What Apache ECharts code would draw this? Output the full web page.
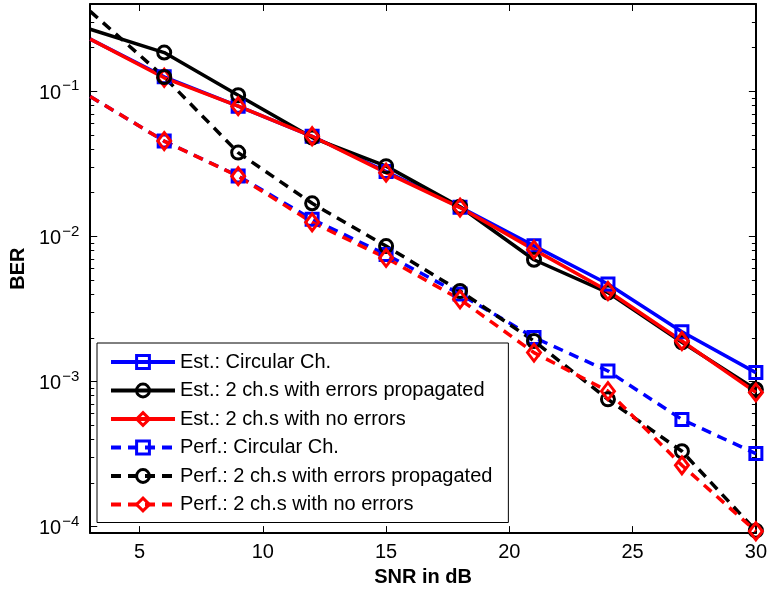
<!DOCTYPE html>
<html>
<head>
<meta charset="utf-8">
<script src="https://cdn.jsdelivr.net/npm/echarts@6/dist/echarts.min.js"></script>
<style>
html,body{margin:0;padding:0;background:#fff;}
#chart{width:770px;height:592px;}
</style>
</head>
<body>
<div id="chart"></div>
<script>
// ---- data ----
const snr = [3, 6, 9, 12, 15, 18, 21, 24, 27, 30];
const estCircular   = [0.229, 0.126, 0.079, 0.049, 0.028, 0.0159, 0.0086, 0.0047, 0.0022, 0.00115];
const estErrProp    = [0.268, 0.185, 0.094, 0.048, 0.0305, 0.016, 0.0069, 0.0041, 0.00186, 0.00088];
const estNoErr      = [0.229, 0.124, 0.079, 0.049, 0.0275, 0.0158, 0.0081, 0.0042, 0.0019, 0.00084];
const perfCircular  = [0.092, 0.0454, 0.0261, 0.0131, 0.0075, 0.0040, 0.00201, 0.00118, 0.000547, 0.000318];
const perfErrProp   = [0.356, 0.1255, 0.0378, 0.0169, 0.00857, 0.0042, 0.0019, 0.000752, 0.00033, 0.0000935];
const perfNoErr     = [0.092, 0.0454, 0.026, 0.0125, 0.0071, 0.00368, 0.00158, 0.000857, 0.000264, 0.0000927];
const seriesNames = [
  'Est.: Circular Ch.',
  'Est.: 2 ch.s with errors propagated',
  'Est.: 2 ch.s with no errors',
  'Perf.: Circular Ch.',
  'Perf.: 2 ch.s with errors propagated',
  'Perf.: 2 ch.s with no errors'
];
const xTicks = [5, 10, 15, 20, 25, 30];
const yMajorTicks = [1e-4, 1e-3, 1e-2, 1e-1];
const yMinorTicks = [];
[1e-4, 1e-3, 1e-2, 1e-1].forEach(function (d) {
  for (let k = 2; k <= 9; k++) { const v = k * d; if (v <= 0.4) yMinorTicks.push(v); }
});
const xMin = 3, xMax = 30, yMin = 9e-5, yMax = 0.4;

// ---- styling ----
const FONT = '"Liberation Sans", Arial, Helvetica, sans-serif';
const BLUE = '#0000ff', BLACK = '#000000', RED = '#ff0000';
const DASH = [10, 7];

function mk(name, vals, color, symbol, size, dashed) {
  return {
    name: name,
    type: 'line',
    data: snr.map(function (x, i) {
      const item = { value: [x, vals[i]] };
      if (i === 0) item.symbol = 'none';
      return item;
    }),
    symbol: symbol,
    symbolSize: size,
    showAllSymbol: true,
    lineStyle: { color: color, width: 3.5, type: dashed ? DASH : 'solid' },
    itemStyle: { color: 'rgba(0,0,0,0)', borderColor: color, borderWidth: 3 },
    emphasis: { disabled: true },
    animation: false,
    z: 2
  };
}

const supFmt = function (v) {
  const e = Math.round(Math.log10(v));
  return '{b|10}{s|' + (e < 0 ? '\u2212' + (-e) : e) + '}';
};

const chart = echarts.init(document.getElementById('chart'), null, { renderer: 'canvas' });
const option = {
  backgroundColor: '#fff',
  animation: false,
  textStyle: { fontFamily: FONT },
  grid: { left: 88, right: 13, top: 4, bottom: 58 },
  legend: {
    orient: 'vertical',
    left: 97, top: 343,
    padding: [9, 16, 8, 12],
    itemWidth: 64, itemHeight: 16, itemGap: 8.5,
    backgroundColor: '#fff',
    borderColor: '#000', borderWidth: 1,
    lineStyle: { width: 4 },
    itemStyle: { borderWidth: 3 },
    textStyle: { fontSize: 20, color: '#000', fontFamily: FONT },
    data: seriesNames,
    selectedMode: false
  },
  xAxis: [
    {
      type: 'value', min: xMin, max: xMax, position: 'bottom',
      name: 'SNR in dB', nameLocation: 'middle', nameGap: 31,
      nameTextStyle: { fontSize: 20, fontWeight: 'bold', color: '#000', fontFamily: FONT },
      axisLine: { show: true, lineStyle: { color: '#000', width: 2 } },
      axisTick: { show: true, inside: true, length: 7, customValues: xTicks, lineStyle: { color: '#000', width: 1 } },
      axisLabel: { show: true, customValues: xTicks, fontSize: 20, color: '#000', margin: 9, fontFamily: FONT },
      splitLine: { show: false }
    },
    {
      type: 'value', min: xMin, max: xMax, position: 'top',
      axisLine: { show: true, lineStyle: { color: '#000', width: 2 } },
      axisTick: { show: true, inside: true, length: 7, customValues: xTicks, lineStyle: { color: '#000', width: 1 } },
      axisLabel: { show: false },
      splitLine: { show: false }
    }
  ],
  yAxis: [
    {
      type: 'log', min: yMin, max: yMax, position: 'left',
      name: 'BER', nameLocation: 'middle', nameGap: 56, nameRotate: 90,
      nameTextStyle: { fontSize: 20, fontWeight: 'bold', color: '#000', fontFamily: FONT },
      axisLine: { show: true, lineStyle: { color: '#000', width: 2 } },
      axisTick: { show: true, inside: true, length: 7, customValues: yMajorTicks, lineStyle: { color: '#000', width: 1 } },
      axisLabel: {
        show: true, customValues: yMajorTicks, formatter: supFmt, margin: 11, color: '#000',
        rich: {
          b: { fontSize: 20, lineHeight: 20, color: '#000', fontFamily: FONT, padding: [4, 0, 0, 0] },
          s: { fontSize: 15, lineHeight: 15, color: '#000', fontFamily: FONT, padding: [0, 0, 10, 1] }
        }
      },
      splitLine: { show: false }
    },
    {
      type: 'log', min: yMin, max: yMax, position: 'left',
      axisLine: { show: false },
      axisTick: { show: true, inside: true, length: 4, customValues: yMinorTicks, lineStyle: { color: '#000', width: 1 } },
      axisLabel: { show: false },
      splitLine: { show: false }
    },
    {
      type: 'log', min: yMin, max: yMax, position: 'right',
      axisLine: { show: true, lineStyle: { color: '#000', width: 2 } },
      axisTick: { show: true, inside: true, length: 7, customValues: yMajorTicks, lineStyle: { color: '#000', width: 1 } },
      axisLabel: { show: false },
      splitLine: { show: false }
    },
    {
      type: 'log', min: yMin, max: yMax, position: 'right',
      axisLine: { show: false },
      axisTick: { show: true, inside: true, length: 4, customValues: yMinorTicks, lineStyle: { color: '#000', width: 1 } },
      axisLabel: { show: false },
      splitLine: { show: false }
    }
  ],
  series: [
    mk(seriesNames[0], estCircular, BLUE, 'rect', 12, false),
    mk(seriesNames[1], estErrProp, BLACK, 'circle', 13, false),
    mk(seriesNames[2], estNoErr, RED, 'diamond', [13, 17], false),
    mk(seriesNames[3], perfCircular, BLUE, 'rect', 12, true),
    mk(seriesNames[4], perfErrProp, BLACK, 'circle', 13, true),
    mk(seriesNames[5], perfNoErr, RED, 'diamond', [13, 17], true)
  ]
};
chart.setOption(option);
</script>
</body>
</html>
